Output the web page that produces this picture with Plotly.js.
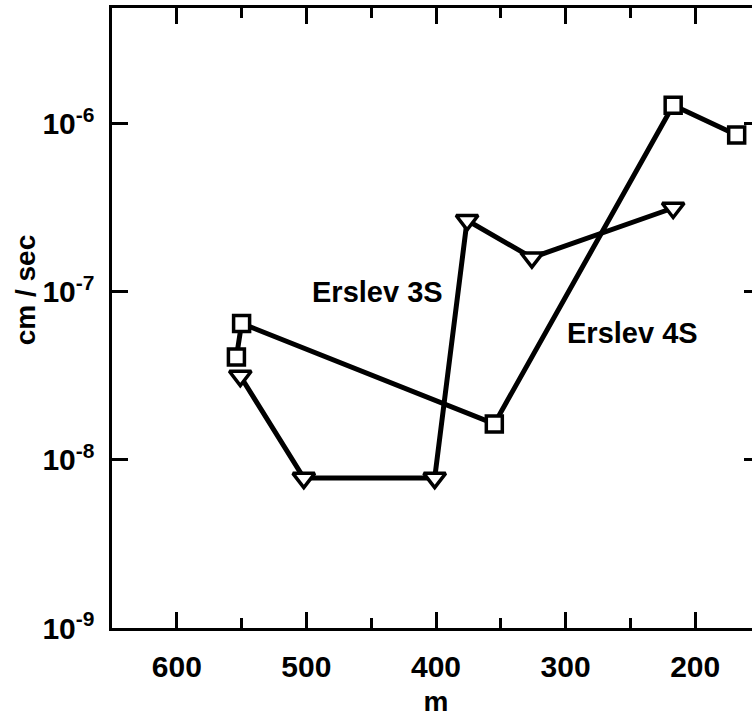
<!DOCTYPE html>
<html>
<head>
<meta charset="utf-8">
<script src="https://cdn.plot.ly/plotly-3.0.1.min.js"></script>
<style>
html, body { margin: 0; padding: 0; overflow: hidden; background: #fff; }
#chart { width: 780px; height: 722px; }
</style>
</head>
<body>
<div id="chart"></div>
<script>
// Erslev 4S (squares)
const depth4S = [554, 550, 355, 217, 168];
const perm4S = [4.1e-8, 6.5e-8, 1.64e-8, 1.29e-6, 8.6e-7];
// Erslev 3S (down triangles)
const depth3S = [551, 502, 401, 376, 326, 217];
const perm3S = [3.16e-8, 7.8e-9, 7.8e-9, 2.67e-7, 1.6e-7, 3.16e-7];

const xTickVals = [600, 500, 400, 300, 200];
const xTickText = ['600', '500', '400', '300', '200'];
const yTickVals = [1e-9, 1e-8, 1e-7, 1e-6];
const yTickText = ['10<sup>-9</sup>', '10<sup>-8</sup>', '10<sup>-7</sup>', '10<sup>-6</sup>'];
const seriesLabels = ['Erslev 3S', 'Erslev 4S'];
const xTitle = 'm';
const yTitle = 'cm / sec';

const FONT = 'Liberation Sans, Arial, sans-serif';

const traces = [
  {
    x: depth4S, y: perm4S, type: 'scatter', mode: 'lines+markers',
    line: {color: '#000', width: 5},
    marker: {symbol: 'square', size: 16, color: '#fff', line: {color: '#000', width: 3.5}},
    name: seriesLabels[1], showlegend: false, cliponaxis: false
  },
  {
    x: depth3S, y: perm3S, type: 'scatter', mode: 'lines+markers',
    line: {color: '#000', width: 5},
    marker: {symbol: 'triangle-down', size: 19, color: '#fff', line: {color: '#000', width: 3.5}},
    name: seriesLabels[0], showlegend: false, cliponaxis: false
  }
];

const layout = {
  width: 780, height: 722,
  margin: {l: 112, r: 20, t: 8, b: 94},
  paper_bgcolor: '#fff', plot_bgcolor: '#fff',
  font: {family: FONT, color: '#000', size: 30, weight: 700},
  showlegend: false,
  xaxis: {
    range: [650, 150],
    tickvals: xTickVals, ticktext: xTickText,
    ticks: 'inside', ticklen: 16, tickwidth: 3, tickcolor: '#000',
    showline: true, linewidth: 3, linecolor: '#000', mirror: 'ticks',
    showgrid: false, zeroline: false,
    minor: {dtick: 50, ticks: 'inside', ticklen: 10, tickwidth: 3, tickcolor: '#000', showgrid: false},
    tickfont: {family: FONT, size: 30, weight: 700, color: '#000'},
    ticklabelstandoff: 10,
    title: {text: xTitle, font: {family: FONT, size: 28, weight: 700, color: '#000'}, standoff: 10}
  },
  yaxis: {
    type: 'log',
    range: [-9, -5.31],
    tickvals: yTickVals, ticktext: yTickText,
    ticks: 'inside', ticklen: 16, tickwidth: 3, tickcolor: '#000',
    showline: true, linewidth: 3.5, linecolor: '#000', mirror: 'ticks',
    showgrid: false, zeroline: false,
    tickfont: {family: FONT, size: 30, weight: 700, color: '#000'},
    ticklabelstandoff: 8
  },
  annotations: [
    {text: yTitle, xref: 'paper', yref: 'paper', x: -0.134, y: 0.545, textangle: -90,
     xanchor: 'center', yanchor: 'middle',
     showarrow: false, font: {family: FONT, size: 28, weight: 700, color: '#000'}},
    {text: seriesLabels[0], xref: 'x', yref: 'y', x: 445, y: -7.0, showarrow: false,
     xanchor: 'center', yanchor: 'middle',
     font: {family: FONT, size: 29, weight: 700, color: '#000'}},
    {text: seriesLabels[1], xref: 'x', yref: 'y', x: 248, y: -7.244, showarrow: false,
     xanchor: 'center', yanchor: 'middle',
     font: {family: FONT, size: 29, weight: 700, color: '#000'}}
  ]
};

Plotly.newPlot('chart', traces, layout, {displayModeBar: false, staticPlot: true});
</script>
</body>
</html>
